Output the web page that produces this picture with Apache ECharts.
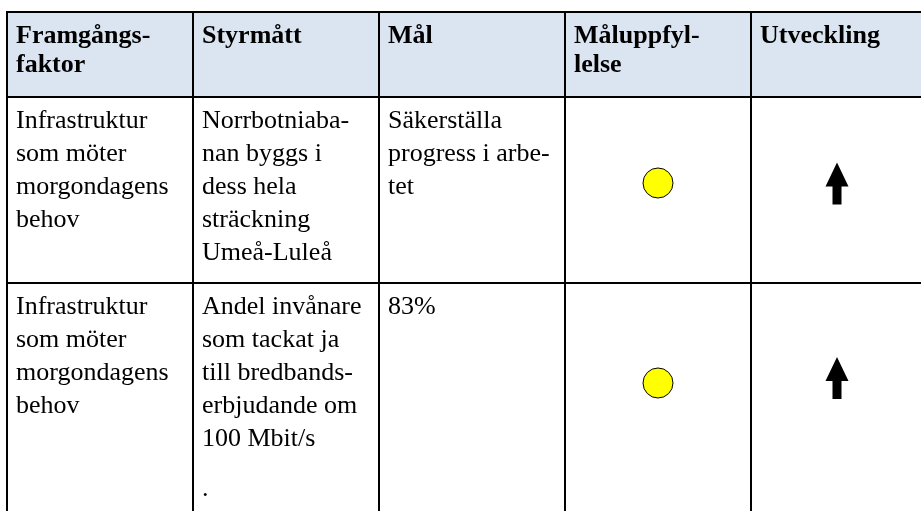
<!DOCTYPE html>
<html>
<head>
<meta charset="utf-8">
<script src="https://cdn.jsdelivr.net/npm/echarts@6/dist/echarts.min.js"></script>
<style>
  html, body { margin: 0; padding: 0; background: #ffffff; }
  #chart { width: 921px; height: 511px; }
</style>
</head>
<body>
<div id="chart"></div>
<script>
// ---- Data (table content) ----
const headers = ['Framgångs-\nfaktor', 'Styrmått', 'Mål', 'Måluppfyl-\nlelse', 'Utveckling'];
const factor = [
  'Infrastruktur\nsom möter\nmorgondagens\nbehov',
  'Infrastruktur\nsom möter\nmorgondagens\nbehov'
];
const measure = [
  'Norrbotniaba-\nnan byggs i\ndess hela\nsträckning\nUmeå-Luleå',
  'Andel invånare\nsom tackat ja\ntill bredbands-\nerbjudande om\n100 Mbit/s\n\n.'
];
const goal = [
  'Säkerställa\nprogress i arbe-\ntet',
  '83%'
];
const fulfilment = ['yellow', 'yellow'];
const trend = ['up', 'up'];

// ---- Layout (sizes, not data) ----
const colWidths = [186, 186, 186, 186, 172];
const rowHeights = [85, 186, 240];
const circleOffset = [86, 100];
const arrowOffset = [86.5, 95];
const FONT = "'Liberation Serif', 'Times New Roman', serif";
const statusColors = { yellow: '#FFFF00', green: '#00B050', red: '#FF0000' };

const colEdges = [0];
colWidths.forEach(w => colEdges.push(colEdges[colEdges.length - 1] + w));
const rowEdges = [0];
rowHeights.forEach(h => rowEdges.push(rowEdges[rowEdges.length - 1] + h));

// build cells
const cells = [];
headers.forEach((h, c) => cells.push({ value: [c, 0], kind: 'header', text: h }));
for (let r = 0; r < factor.length; r++) {
  const row = r + 1;
  cells.push({ value: [0, row], kind: 'text', text: factor[r] });
  cells.push({ value: [1, row], kind: 'text', text: measure[r] });
  cells.push({ value: [2, row], kind: 'text', text: goal[r] });
  cells.push({ value: [3, row], kind: 'status', status: fulfilment[r], r: r });
  cells.push({ value: [4, row], kind: 'trend', trend: trend[r], r: r });
}

function toRich(txt) {
  return txt.split('\n').map(l => l === '' ? '{g| }' : '{t|' + l + '}').join('\n');
}

function renderItem(params, api) {
  const c = api.value(0), r = api.value(1);
  const cell = cells[params.dataIndex];
  const p0 = api.coord([colEdges[c], rowEdges[r]]);
  const p1 = api.coord([colEdges[c + 1], rowEdges[r + 1]]);
  const children = [{
    type: 'rect',
    shape: { x: p0[0], y: p0[1], width: p1[0] - p0[0], height: p1[1] - p0[1] },
    style: { fill: cell.kind === 'header' ? '#DBE5F1' : '#FFFFFF', stroke: '#000000', lineWidth: 2 }
  }];
  const cx = (p0[0] + p1[0]) / 2;
  if (cell.kind === 'header') {
    children.push({
      type: 'text', x: p0[0] + 9, y: p0[1] + 10,
      style: { text: cell.text, fontFamily: FONT, fontSize: 26, fontWeight: 'bold',
               lineHeight: 29, fill: '#000', align: 'left', verticalAlign: 'top' }
    });
  } else if (cell.kind === 'text') {
    children.push({
      type: 'text', x: p0[0] + 9, y: p0[1] + 8,
      style: { text: toRich(cell.text), fontFamily: FONT, fontSize: 26, fill: '#000',
               align: 'left', verticalAlign: 'top',
               rich: {
                 t: { fontFamily: FONT, fontSize: 26, lineHeight: 33, fill: '#000' },
                 g: { fontFamily: FONT, fontSize: 26, lineHeight: 17, fill: '#000' }
               } }
    });
  } else if (cell.kind === 'status') {
    children.push({
      type: 'circle',
      shape: { cx: cx, cy: p0[1] + circleOffset[cell.r], r: 15 },
      style: { fill: statusColors[cell.status], stroke: '#000', lineWidth: 1 }
    });
  } else if (cell.kind === 'trend') {
    const cy = p0[1] + arrowOffset[cell.r];
    const dir = cell.trend === 'up' ? 1 : -1;
    const pts = [
      [cx, cy - 21 * dir], [cx + 11.5, cy + 3 * dir], [cx + 4.5, cy + 3 * dir],
      [cx + 4.5, cy + 21 * dir], [cx - 4.5, cy + 21 * dir], [cx - 4.5, cy + 3 * dir],
      [cx - 11.5, cy + 3 * dir]
    ];
    children.push({ type: 'polygon', shape: { points: pts }, style: { fill: '#000' } });
  }
  return { type: 'group', children: children };
}

const chart = echarts.init(document.getElementById('chart'), null, { renderer: 'canvas' });
chart.setOption({
  animation: false,
  backgroundColor: '#ffffff',
  grid: { left: 7, top: 12, right: 0, bottom: 0 },
  xAxis: { type: 'value', min: 0, max: 914, show: false },
  yAxis: { type: 'value', min: 0, max: 499, inverse: true, show: false },
  series: [{
    type: 'custom',
    clip: false,
    renderItem: renderItem,
    data: cells.map(c => c.value)
  }]
});
</script>
</body>
</html>
